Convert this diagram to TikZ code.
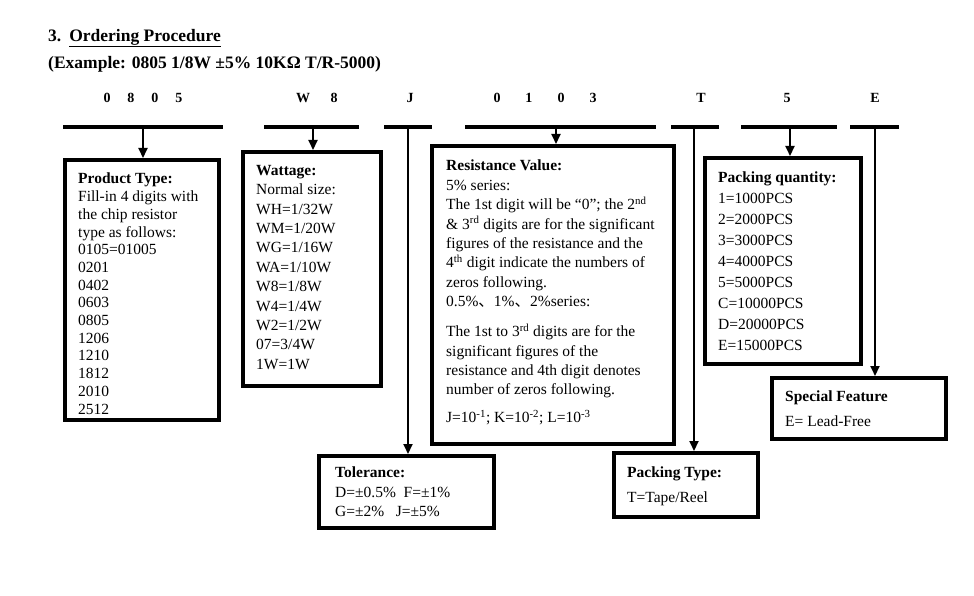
\documentclass[tikz,border=0pt]{standalone}
\usepackage{fontspec}
\setmainfont{Liberation Serif}
\newfontfamily\cjk{Noto Sans CJK SC}
\usetikzlibrary{arrows.meta}
\tikzset{
  box/.style={draw, line width=4pt, inner sep=0pt, anchor=north west},
  bar/.style={fill=black, inner sep=0pt, minimum height=4pt},
  arr/.style={line width=2pt, -{Triangle[length=10pt,width=9pt]}},
  code/.style={font=\fontsize{14}{16}\selectfont\bfseries, inner sep=0pt},
  txt/.style={anchor=north west, inner sep=0pt, align=left},
}
\newcommand{\mb}[2]{\makebox[#1pt]{#2}}
\begin{document}
\begin{tikzpicture}[x=1pt,y=-1pt]
\useasboundingbox[fill=white] (0,0) rectangle (974,596);
% title
\node[anchor=west, inner sep=0pt, font=\fontsize{17.5}{20}\selectfont\bfseries] (title) at (48,38) {3.\hspace{8pt}\underline{Ordering Procedure}};
\node[anchor=west, inner sep=0pt, font=\fontsize{17.5}{20}\selectfont\bfseries] (example) at (48,64) {(Example: 0805 1/8W ±5\% 10KΩ T/R-5000)};
% code letters
\node[code] (c1) at (143,98) {\mb{24}{0}\mb{24}{8}\mb{24}{0}\mb{24}{5}};
\node[code] (c2) at (318.5,98) {\mb{31}{W}\mb{31}{8}};
\node[code] (c3) at (410,98) {J};
\node[code] (c4) at (545,98) {\mb{32}{0}\mb{32}{1}\mb{32}{0}\mb{32}{3}};
\node[code] (c5) at (701,98) {T};
\node[code] (c6) at (787,98) {5};
\node[code] (c7) at (875,98) {E};
% bars
\node[bar, minimum width=160pt] (b1) at (143,127) {};
\node[bar, minimum width=95pt] (b2) at (311.5,127) {};
\node[bar, minimum width=48pt] (b3) at (408,127) {};
\node[bar, minimum width=191pt] (b4) at (560.5,127) {};
\node[bar, minimum width=48pt] (b5) at (695,127) {};
\node[bar, minimum width=96pt] (b6) at (789,127) {};
\node[bar, minimum width=49pt] (b7) at (874.5,127) {};
% boxes
\node[box, minimum width=154pt, minimum height=260pt] (pt) at (63,158) {};
\node[box, minimum width=138pt, minimum height=234pt] (wt) at (241,150) {};
\node[box, minimum width=242pt, minimum height=298pt] (rv) at (430,144) {};
\node[box, minimum width=175pt, minimum height=72pt] (tol) at (317,454) {};
\node[box, minimum width=156pt, minimum height=206pt] (pq) at (703,156) {};
\node[box, minimum width=174pt, minimum height=61pt] (sf) at (770,376) {};
\node[box, minimum width=144pt, minimum height=64pt] (pty) at (612,451) {};
% connectors
\draw[arr] (b1.south) -- (b1.south |- pt.north);
\draw[arr] ([xshift=1.5pt]b2.south) -- ([xshift=1.5pt]b2.south |- wt.north);
\draw[arr] (b3.south) -- (b3.south |- tol.north);
\draw[arr] ([xshift=-4.5pt]b4.south) -- ([xshift=-4.5pt]b4.south |- rv.north);
\draw[arr] ([xshift=-1pt]b5.south) -- ([xshift=-1pt]b5.south |- pty.north);
\draw[arr] ([xshift=1pt]b6.south) -- ([xshift=1pt]b6.south |- pq.north);
\draw[arr] ([xshift=0.5pt]b7.south) -- ([xshift=0.5pt]b7.south |- sf.north);
% texts
\node[txt, font=\fontsize{15.5}{17.7}\selectfont] (ptt) at (78,173) {\textbf{Product Type:}\\Fill-in 4 digits with\\the chip resistor\\type as follows:\\0105=01005\\0201\\0402\\0603\\0805\\1206\\1210\\1812\\2010\\2512};
\node[txt, font=\fontsize{15.5}{19.4}\selectfont] (wtt) at (256,165) {\textbf{Wattage:}\\Normal size:\\WH=1/32W\\WM=1/20W\\WG=1/16W\\WA=1/10W\\W8=1/8W\\W4=1/4W\\W2=1/2W\\07=3/4W\\1W=1W};
\node[txt, font=\fontsize{15.5}{19.4}\selectfont] (rvt) at (446,160) {\textbf{Resistance Value:}\\5\% series:\\The 1st digit will be “0”; the 2\textsuperscript{nd}\\\& 3\textsuperscript{rd} digits are for the significant\\figures of the resistance and the\\4\textsuperscript{th} digit indicate the numbers of\\zeros following.\\0.5\%{\cjk 、}1\%{\cjk 、}2\%series:\\[10.5pt]The 1st to 3\textsuperscript{rd} digits are for the\\significant figures of the\\resistance and 4th digit denotes\\number of zeros following.\\[8pt]J=10\textsuperscript{-1}; K=10\textsuperscript{-2}; L=10\textsuperscript{-3}};
\node[txt, font=\fontsize{15.5}{19.5}\selectfont] (tolt) at (335,467) {\textbf{Tolerance:}\\D=±0.5\%\ \ F=±1\%\\G=±2\%\ \ \ J=±5\%};
\node[txt, font=\fontsize{15.5}{21}\selectfont] (pqt) at (718,172) {\textbf{Packing quantity:}\\1=1000PCS\\2=2000PCS\\3=3000PCS\\4=4000PCS\\5=5000PCS\\C=10000PCS\\D=20000PCS\\E=15000PCS};
\node[txt, font=\fontsize{15.5}{25}\selectfont] (sft) at (785,391) {\textbf{Special Feature}\\E= Lead-Free};
\node[txt, font=\fontsize{15.5}{25}\selectfont] (ptyt) at (627,467) {\textbf{Packing Type:}\\T=Tape/Reel};
\end{tikzpicture}
\end{document}
